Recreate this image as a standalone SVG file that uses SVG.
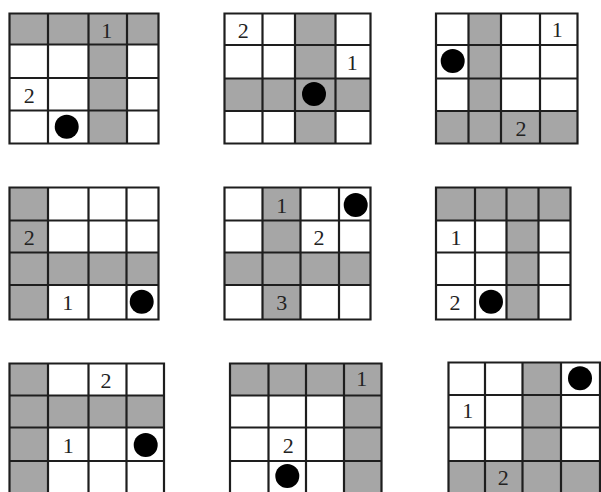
<svg xmlns="http://www.w3.org/2000/svg" width="601" height="492" viewBox="0 0 601 492">
<style>
.bg{fill:#ffffff}
.sh{fill:#a6a6a6}
.ln{fill:none;stroke:#1e1e1e;stroke-width:2.2;stroke-linecap:square}
.t{font-family:"Liberation Serif","Times New Roman",serif;font-size:22px;fill:#222;text-anchor:middle}
.d{fill:#000}
</style>
<rect width="601" height="492" fill="#ffffff"/>
<g id="grid1">
<rect class="bg" x="9.5" y="13.5" width="149" height="130"/>
<rect class="sh" x="9.5" y="13.5" width="149" height="31"/>
<rect class="sh" x="88.5" y="13.5" width="38.5" height="130"/>
<path class="ln" d="M9.5 13.5V143.5M48 13.5V143.5M88.5 13.5V143.5M127 13.5V143.5M158.5 13.5V143.5M9.5 13.5H158.5M9.5 44.5H158.5M9.5 78H158.5M9.5 110.5H158.5M9.5 143.5H158.5"/>
<text class="t" x="106.7" y="38">1</text>
<text class="t" x="29.3" y="103">2</text>
<circle class="d" cx="66.7" cy="126.7" r="12"/>
</g>
<g id="grid2">
<rect class="bg" x="224.5" y="13.5" width="146" height="130"/>
<rect class="sh" x="295" y="13.5" width="40.5" height="130"/>
<rect class="sh" x="224.5" y="78.5" width="146" height="32.5"/>
<path class="ln" d="M224.5 13.5V143.5M262.5 13.5V143.5M295 13.5V143.5M335.5 13.5V143.5M370.5 13.5V143.5M224.5 13.5H370.5M224.5 45H370.5M224.5 78.5H370.5M224.5 111H370.5M224.5 143.5H370.5"/>
<text class="t" x="243.3" y="37.5">2</text>
<text class="t" x="352.3" y="69.5">1</text>
<circle class="d" cx="314" cy="94" r="12"/>
</g>
<g id="grid3">
<rect class="bg" x="436" y="13.5" width="141.5" height="130"/>
<rect class="sh" x="468.5" y="13.5" width="32.5" height="130"/>
<rect class="sh" x="436" y="111" width="141.5" height="32.5"/>
<path class="ln" d="M436 13.5V143.5M468.5 13.5V143.5M501 13.5V143.5M540 13.5V143.5M577.5 13.5V143.5M436 13.5H577.5M436 45H577.5M436 78.5H577.5M436 111H577.5M436 143.5H577.5"/>
<text class="t" x="557.3" y="36.5">1</text>
<text class="t" x="521" y="135.5">2</text>
<circle class="d" cx="452.7" cy="61" r="12"/>
</g>
<g id="grid4">
<rect class="bg" x="9.5" y="187.5" width="149" height="132"/>
<rect class="sh" x="9.5" y="187.5" width="38.5" height="132"/>
<rect class="sh" x="9.5" y="252.5" width="149" height="32.5"/>
<path class="ln" d="M9.5 187.5V319.5M48 187.5V319.5M88.5 187.5V319.5M126.5 187.5V319.5M158.5 187.5V319.5M9.5 187.5H158.5M9.5 220.5H158.5M9.5 252.5H158.5M9.5 285H158.5M9.5 319.5H158.5"/>
<text class="t" x="29.3" y="244.5">2</text>
<text class="t" x="67.7" y="309.5">1</text>
<circle class="d" cx="141.7" cy="301.7" r="12"/>
</g>
<g id="grid5">
<rect class="bg" x="224.5" y="187.5" width="146" height="132"/>
<rect class="sh" x="262.5" y="187.5" width="38" height="132"/>
<rect class="sh" x="224.5" y="252.5" width="146" height="32.5"/>
<path class="ln" d="M224.5 187.5V319.5M262.5 187.5V319.5M300.5 187.5V319.5M339 187.5V319.5M370.5 187.5V319.5M224.5 187.5H370.5M224.5 220.5H370.5M224.5 252.5H370.5M224.5 285H370.5M224.5 319.5H370.5"/>
<text class="t" x="281.7" y="213">1</text>
<text class="t" x="319" y="244.5">2</text>
<text class="t" x="281.7" y="309.5">3</text>
<circle class="d" cx="355.7" cy="205" r="12"/>
</g>
<g id="grid6">
<rect class="bg" x="436" y="187.5" width="134.5" height="132"/>
<rect class="sh" x="436" y="187.5" width="134.5" height="33"/>
<rect class="sh" x="506.5" y="187.5" width="32" height="132"/>
<path class="ln" d="M436 187.5V319.5M475 187.5V319.5M506.5 187.5V319.5M538.5 187.5V319.5M570.5 187.5V319.5M436 187.5H570.5M436 220.5H570.5M436 252.5H570.5M436 285H570.5M436 319.5H570.5"/>
<text class="t" x="456" y="244.5">1</text>
<text class="t" x="455" y="309.5">2</text>
<circle class="d" cx="491" cy="301.7" r="12"/>
</g>
<g id="grid7">
<rect class="bg" x="9.5" y="363.5" width="154.5" height="131.5"/>
<rect class="sh" x="9.5" y="363.5" width="38.5" height="131.5"/>
<rect class="sh" x="9.5" y="395.5" width="154.5" height="32"/>
<path class="ln" d="M9.5 363.5V495M48 363.5V495M88.5 363.5V495M126.5 363.5V495M164 363.5V495M9.5 363.5H164M9.5 395.5H164M9.5 427.5H164M9.5 461H164"/>
<text class="t" x="106" y="388">2</text>
<text class="t" x="68.3" y="453">1</text>
<circle class="d" cx="145.7" cy="445" r="12"/>
</g>
<g id="grid8">
<rect class="bg" x="230" y="363.5" width="151.5" height="131.5"/>
<rect class="sh" x="230" y="363.5" width="151.5" height="32"/>
<rect class="sh" x="344" y="363.5" width="37.5" height="131.5"/>
<path class="ln" d="M230 363.5V495M268.5 363.5V495M306 363.5V495M344 363.5V495M381.5 363.5V495M230 363.5H381.5M230 395.5H381.5M230 427.5H381.5M230 461H381.5"/>
<text class="t" x="361.7" y="386">1</text>
<text class="t" x="288.3" y="453">2</text>
<circle class="d" cx="287.3" cy="476" r="12"/>
</g>
<g id="grid9">
<rect class="bg" x="448.5" y="362.5" width="151.5" height="132.5"/>
<rect class="sh" x="522.5" y="362.5" width="38.5" height="132.5"/>
<rect class="sh" x="448.5" y="461" width="151.5" height="34"/>
<path class="ln" d="M448.5 362.5V495M485 362.5V495M522.5 362.5V495M561 362.5V495M600 362.5V495M448.5 362.5H600M448.5 395H600M448.5 427.5H600M448.5 461H600"/>
<text class="t" x="467.7" y="418">1</text>
<text class="t" x="503.3" y="484.5">2</text>
<circle class="d" cx="580" cy="378.3" r="12"/>
</g>
<g id="connectors"/>
</svg>
